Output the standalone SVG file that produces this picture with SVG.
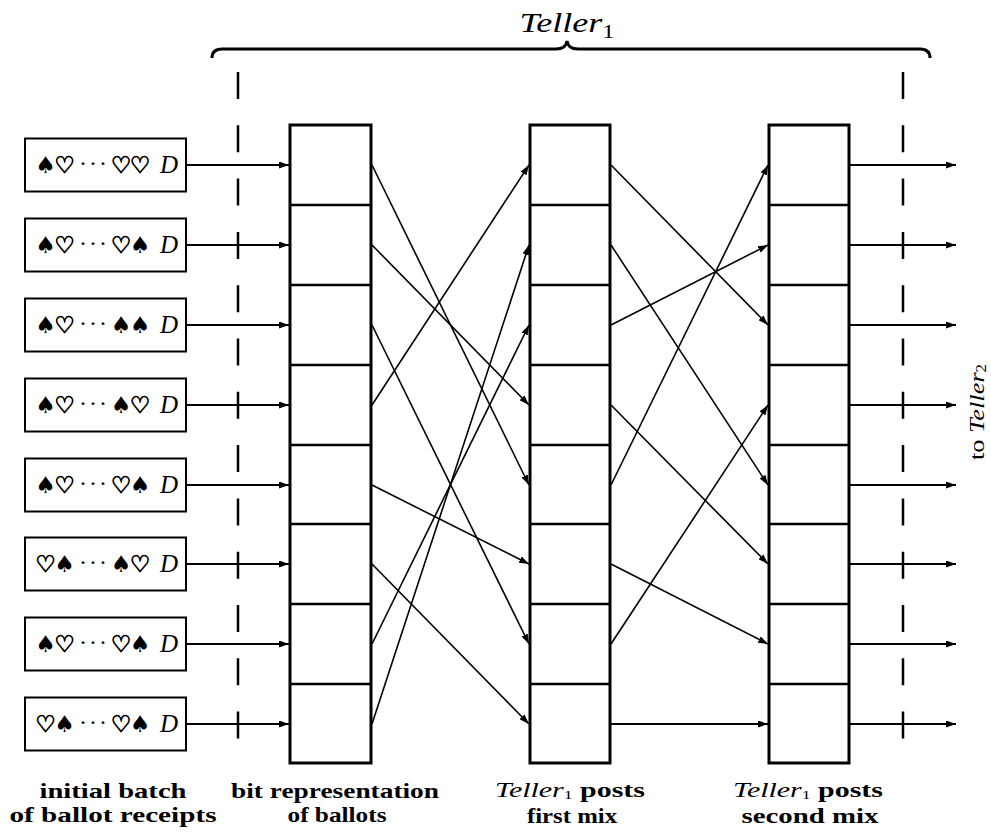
<svg xmlns="http://www.w3.org/2000/svg" width="991" height="833" viewBox="0 0 991 833">
<style>
.box{fill:#fff;stroke:#000;stroke-width:2}
.col{fill:#fff;stroke:#000;stroke-width:3}
.div{stroke:#000;stroke-width:2.5}
.dash{stroke:#000;stroke-width:2.5;stroke-dasharray:27 26.3;fill:none}
.con{stroke:#000;stroke-width:1.6;fill:none;marker-end:url(#ah)}
.hcon{stroke:#000;stroke-width:2;fill:none;marker-end:url(#ah)}
.sym{font-family:"DejaVu Sans",sans-serif;font-size:23px;text-anchor:middle}
.h{stroke:#000;stroke-width:0.9}
.dots{font-family:"Liberation Serif","DejaVu Serif",serif;font-size:24px;text-anchor:middle}
.D{font-family:"Liberation Serif","DejaVu Serif",serif;font-style:italic;font-size:25px;text-anchor:middle}
.lbl{font-family:"Liberation Serif","DejaVu Serif",serif;font-weight:bold;font-size:22px;text-anchor:middle}
.it{font-family:"Liberation Serif","DejaVu Serif",serif;font-style:italic;font-weight:normal}
.sub{font-family:"Liberation Serif","DejaVu Serif",serif;font-weight:normal;font-style:normal}
</style>
<defs>
<marker id="ah" markerUnits="userSpaceOnUse" markerWidth="11" markerHeight="7" refX="10" refY="3.5" orient="auto">
<path d="M0,0 L10,3.5 L0,7 z" fill="#000"/>
</marker>
</defs>

<g id="title">
<text x="567" y="32" font-family="Liberation Serif, DejaVu Serif, serif" font-style="italic" font-size="28" text-anchor="middle" textLength="95" lengthAdjust="spacingAndGlyphs">Teller<tspan class="sub" font-size="19" dy="6">1</tspan></text>
<path d="M212,58 Q212,49 222,49 L556,49 Q566,49 567,41 Q568,49 578,49 L920,49 Q930,49 930,58" fill="none" stroke="#000" stroke-width="3"/>
</g>

<g id="boundaries">
<line class="dash" x1="238" y1="72" x2="238" y2="740"/>
<line class="dash" x1="903" y1="72" x2="903" y2="740"/>
</g>

<g id="receipt0"><rect class="box" x="25" y="138.5" width="161" height="53"/><text class="sym" y="173"><tspan x="45.5">♠</tspan><tspan class="h" x="64.5">♡</tspan><tspan class="h" x="121">♡</tspan><tspan class="h" x="140">♡</tspan></text><text class="dots" y="171"><tspan x="83">·</tspan><tspan x="93">·</tspan><tspan x="103">·</tspan></text><text class="D" x="169" y="173">D</text></g>
<g id="receipt1"><rect class="box" x="25" y="218.5" width="161" height="53"/><text class="sym" y="253"><tspan x="45.5">♠</tspan><tspan class="h" x="64.5">♡</tspan><tspan class="h" x="121">♡</tspan><tspan x="140">♠</tspan></text><text class="dots" y="251"><tspan x="83">·</tspan><tspan x="93">·</tspan><tspan x="103">·</tspan></text><text class="D" x="169" y="253">D</text></g>
<g id="receipt2"><rect class="box" x="25" y="298.5" width="161" height="53"/><text class="sym" y="333"><tspan x="45.5">♠</tspan><tspan class="h" x="64.5">♡</tspan><tspan x="121">♠</tspan><tspan x="140">♠</tspan></text><text class="dots" y="331"><tspan x="83">·</tspan><tspan x="93">·</tspan><tspan x="103">·</tspan></text><text class="D" x="169" y="333">D</text></g>
<g id="receipt3"><rect class="box" x="25" y="378.5" width="161" height="53"/><text class="sym" y="413"><tspan x="45.5">♠</tspan><tspan class="h" x="64.5">♡</tspan><tspan x="121">♠</tspan><tspan class="h" x="140">♡</tspan></text><text class="dots" y="411"><tspan x="83">·</tspan><tspan x="93">·</tspan><tspan x="103">·</tspan></text><text class="D" x="169" y="413">D</text></g>
<g id="receipt4"><rect class="box" x="25" y="458.5" width="161" height="53"/><text class="sym" y="493"><tspan x="45.5">♠</tspan><tspan class="h" x="64.5">♡</tspan><tspan class="h" x="121">♡</tspan><tspan x="140">♠</tspan></text><text class="dots" y="491"><tspan x="83">·</tspan><tspan x="93">·</tspan><tspan x="103">·</tspan></text><text class="D" x="169" y="493">D</text></g>
<g id="receipt5"><rect class="box" x="25" y="537.5" width="161" height="53"/><text class="sym" y="572"><tspan class="h" x="45.5">♡</tspan><tspan x="64.5">♠</tspan><tspan x="121">♠</tspan><tspan class="h" x="140">♡</tspan></text><text class="dots" y="570"><tspan x="83">·</tspan><tspan x="93">·</tspan><tspan x="103">·</tspan></text><text class="D" x="169" y="572">D</text></g>
<g id="receipt6"><rect class="box" x="25" y="617.5" width="161" height="53"/><text class="sym" y="652"><tspan x="45.5">♠</tspan><tspan class="h" x="64.5">♡</tspan><tspan class="h" x="121">♡</tspan><tspan x="140">♠</tspan></text><text class="dots" y="650"><tspan x="83">·</tspan><tspan x="93">·</tspan><tspan x="103">·</tspan></text><text class="D" x="169" y="652">D</text></g>
<g id="receipt7"><rect class="box" x="25" y="697.5" width="161" height="53"/><text class="sym" y="732"><tspan class="h" x="45.5">♡</tspan><tspan x="64.5">♠</tspan><tspan class="h" x="121">♡</tspan><tspan x="140">♠</tspan></text><text class="dots" y="730"><tspan x="83">·</tspan><tspan x="93">·</tspan><tspan x="103">·</tspan></text><text class="D" x="169" y="732">D</text></g>

<g id="bits">
<rect class="col" x="290" y="125" width="81" height="638"/>
<line class="div" x1="290" y1="205" x2="371" y2="205"/><line class="div" x1="290" y1="285" x2="371" y2="285"/><line class="div" x1="290" y1="365" x2="371" y2="365"/><line class="div" x1="290" y1="445" x2="371" y2="445"/><line class="div" x1="290" y1="524" x2="371" y2="524"/><line class="div" x1="290" y1="604" x2="371" y2="604"/><line class="div" x1="290" y1="684" x2="371" y2="684"/>
</g>
<g id="mix1">
<rect class="col" x="530" y="125" width="80" height="638"/>
<line class="div" x1="530" y1="205" x2="610" y2="205"/><line class="div" x1="530" y1="285" x2="610" y2="285"/><line class="div" x1="530" y1="365" x2="610" y2="365"/><line class="div" x1="530" y1="445" x2="610" y2="445"/><line class="div" x1="530" y1="524" x2="610" y2="524"/><line class="div" x1="530" y1="604" x2="610" y2="604"/><line class="div" x1="530" y1="684" x2="610" y2="684"/>
</g>
<g id="mix2">
<rect class="col" x="769" y="125" width="80" height="638"/>
<line class="div" x1="769" y1="205" x2="849" y2="205"/><line class="div" x1="769" y1="285" x2="849" y2="285"/><line class="div" x1="769" y1="365" x2="849" y2="365"/><line class="div" x1="769" y1="445" x2="849" y2="445"/><line class="div" x1="769" y1="524" x2="849" y2="524"/><line class="div" x1="769" y1="604" x2="849" y2="604"/><line class="div" x1="769" y1="684" x2="849" y2="684"/>
</g>

<g id="connectors">
<line class="hcon" x1="186" y1="165" x2="289" y2="165"/>
<line class="hcon" x1="186" y1="245" x2="289" y2="245" stroke-width="2.6"/>
<line class="hcon" x1="186" y1="325" x2="289" y2="325"/>
<line class="hcon" x1="186" y1="405" x2="289" y2="405"/>
<line class="hcon" x1="186" y1="485" x2="289" y2="485"/>
<line class="hcon" x1="186" y1="564" x2="289" y2="564"/>
<line class="hcon" x1="186" y1="644" x2="289" y2="644"/>
<line class="hcon" x1="186" y1="724" x2="289" y2="724"/>

<line class="con" x1="372" y1="165" x2="529" y2="485"/>
<line class="con" x1="372" y1="245" x2="529" y2="405"/>
<line class="con" x1="372" y1="325" x2="529" y2="644"/>
<line class="con" x1="372" y1="405" x2="529" y2="165"/>
<line class="con" x1="372" y1="485" x2="529" y2="564"/>
<line class="con" x1="372" y1="564" x2="529" y2="724"/>
<line class="con" x1="372" y1="644" x2="529" y2="325"/>
<line class="con" x1="372" y1="724" x2="529" y2="245"/>

<line class="con" x1="611" y1="165" x2="768" y2="325"/>
<line class="con" x1="611" y1="245" x2="768" y2="485"/>
<line class="con" x1="611" y1="325" x2="768" y2="245"/>
<line class="con" x1="611" y1="405" x2="768" y2="564"/>
<line class="con" x1="611" y1="485" x2="768" y2="165"/>
<line class="con" x1="611" y1="564" x2="768" y2="644"/>
<line class="con" x1="611" y1="644" x2="768" y2="405"/>
<line class="hcon" x1="611" y1="724" x2="768" y2="724"/>

<line class="hcon" x1="850" y1="165" x2="956" y2="165"/>
<line class="hcon" x1="850" y1="245" x2="956" y2="245" stroke-width="2.6"/>
<line class="hcon" x1="850" y1="325" x2="956" y2="325"/>
<line class="hcon" x1="850" y1="405" x2="956" y2="405"/>
<line class="hcon" x1="850" y1="485" x2="956" y2="485"/>
<line class="hcon" x1="850" y1="564" x2="956" y2="564"/>
<line class="hcon" x1="850" y1="644" x2="956" y2="644"/>
<line class="hcon" x1="850" y1="724" x2="956" y2="724"/>
</g>

<g id="to-teller2">
<text transform="translate(984,412) rotate(-90)" font-family="Liberation Serif, DejaVu Serif, serif" font-size="22" text-anchor="middle" textLength="96" lengthAdjust="spacingAndGlyphs">to <tspan font-style="italic">Teller</tspan><tspan font-size="14" dy="2">2</tspan></text>
</g>

<g id="labels">
<text class="lbl" x="113" y="798" textLength="147" lengthAdjust="spacingAndGlyphs">initial batch</text>
<text class="lbl" x="113" y="822" textLength="207" lengthAdjust="spacingAndGlyphs">of ballot receipts</text>
<text class="lbl" x="335" y="798" textLength="208" lengthAdjust="spacingAndGlyphs">bit representation</text>
<text class="lbl" x="337" y="822" textLength="99" lengthAdjust="spacingAndGlyphs">of ballots</text>
<text class="lbl" x="570" y="797" textLength="150" lengthAdjust="spacingAndGlyphs"><tspan class="it">Teller</tspan><tspan class="sub" font-size="13" dy="2">1</tspan><tspan dy="-2"> posts</tspan></text>
<text class="lbl" x="572" y="823" textLength="90" lengthAdjust="spacingAndGlyphs">first mix</text>
<text class="lbl" x="808" y="797" textLength="150" lengthAdjust="spacingAndGlyphs"><tspan class="it">Teller</tspan><tspan class="sub" font-size="13" dy="2">1</tspan><tspan dy="-2"> posts</tspan></text>
<text class="lbl" x="810" y="823" textLength="137" lengthAdjust="spacingAndGlyphs">second mix</text>
</g>
</svg>
